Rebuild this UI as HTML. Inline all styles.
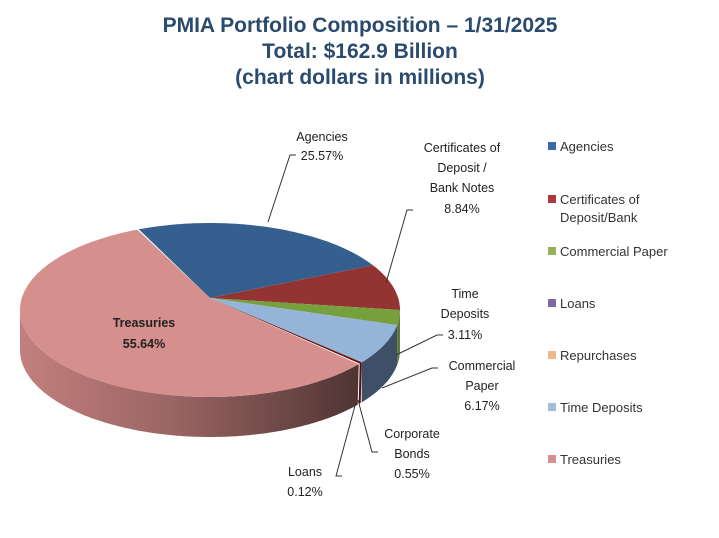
<!DOCTYPE html>
<html><head><meta charset="utf-8"><style>
body{margin:0;background:#fff;width:719px;height:533px;overflow:hidden}
svg text{font-family:"Liberation Sans","DejaVu Sans",sans-serif}
</style></head><body>
<svg id="s" width="719" height="533" viewBox="0 0 719 533" xmlns="http://www.w3.org/2000/svg">
<defs>
<linearGradient id="tg" x1="0" x2="1" y1="0" y2="0">
<stop offset="0" stop-color="#c27f7d"/><stop offset="0.45" stop-color="#9a6563"/><stop offset="1" stop-color="#4f3433"/></linearGradient>
</defs>
<g font-weight="bold" fill="#2a4a6e" font-size="21" text-anchor="middle">
<text x="360" y="32">PMIA Portfolio Composition – 1/31/2025</text>
<text x="360" y="58">Total: $162.9 Billion</text>
<text x="360" y="84">(chart dollars in millions)</text>
</g>
<g id="pie"></g>
<g fill="none" stroke="#333" stroke-width="1">
<polyline points="296,155 290,155 268,222"/>
<polyline points="413,210 407,210 386,283"/>
<polyline points="443,335 437,335 396,355"/>
<polyline points="438,368 432,368 382,388"/>
<polyline points="378,452 372,452 358,400"/>
<polyline points="342,476 336,476 356,402"/>
</g>
<g font-size="12.5" fill="#222" text-anchor="middle">
<text x="322" y="141">Agencies</text><text x="322" y="160">25.57%</text>
<text x="462" y="152">Certificates of</text><text x="462" y="172">Deposit /</text><text x="462" y="192">Bank Notes</text><text x="462" y="213">8.84%</text>
<text x="465" y="298">Time</text><text x="465" y="318">Deposits</text><text x="465" y="339">3.11%</text>
<text x="482" y="370">Commercial</text><text x="482" y="390">Paper</text><text x="482" y="410">6.17%</text>
<text x="412" y="438">Corporate</text><text x="412" y="458">Bonds</text><text x="412" y="478">0.55%</text>
<text x="305" y="476">Loans</text><text x="305" y="496">0.12%</text>
<text x="144" y="327" font-weight="bold">Treasuries</text><text x="144" y="348" font-weight="bold">55.64%</text>
</g>
<g font-size="13" fill="#333">
<rect x="548" y="142" width="8" height="8" fill="#3e6ba5"/><text x="560" y="151">Agencies</text>
<rect x="548" y="195" width="8" height="8" fill="#b03a3a"/><text x="560" y="204">Certificates of</text><text x="560" y="222">Deposit/Bank</text>
<rect x="548" y="247" width="8" height="8" fill="#94b05a"/><text x="560" y="256">Commercial Paper</text>
<rect x="548" y="299" width="8" height="8" fill="#7c6a9e"/><text x="560" y="308">Loans</text>
<rect x="548" y="351" width="8" height="8" fill="#f0b88e"/><text x="560" y="360">Repurchases</text>
<rect x="548" y="403" width="8" height="8" fill="#a6bcdc"/><text x="560" y="412">Time Deposits</text>
<rect x="548" y="455" width="8" height="8" fill="#d88e8c"/><text x="560" y="464">Treasuries</text>
</g>
</svg>
<script>
var cx=210,cy=310,rx=190,ry=87,D=40,ax=210,ay=298;
function P(t,dy){t=t*Math.PI/180;return (cx+rx*Math.cos(t)).toFixed(1)+","+(cy+ry*Math.sin(t)+(dy||0)).toFixed(1);}
function arc(a,b,dy){var s="";for(var t=a;(a<b?t<=b:t>=b);t+=(a<b?1:-1))s+="L"+P(t,dy)+" ";return s;}
var g=document.getElementById("pie"),h="";
function side(a,b,fill){h+='<path d="M'+P(a)+' '+arc(a,b)+arc(b,a,D)+'Z" fill="'+fill+'"/>';}
side(0,10,"#5e7a35");side(10,37,"#3e5068");side(37,38.5,"#5a0c0c");side(38.5,180,"url(#tg)");
function sl(a,b,fill){h+='<path d="M'+ax+','+ay+' L'+P(a)+' '+arc(a,b)+'Z" fill="'+fill+'"/>';}
sl(-112,-31,"#345f8f");sl(-31,0,"#943432");sl(0,10,"#76a03e");sl(10,37,"#94b4d8");sl(37,38.5,"#6a1010");sl(38.5,248,"#d58f8d");
g.innerHTML=h;
</script>
</body></html>
